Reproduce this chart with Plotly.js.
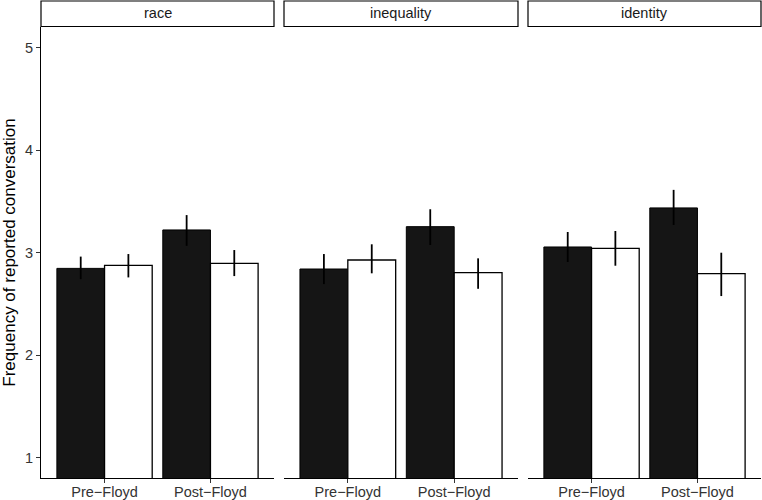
<!DOCTYPE html>
<html>
<head>
<meta charset="utf-8">
<script src="https://cdn.plot.ly/plotly-3.0.1.min.js"></script>
<style>html,body{margin:0;padding:0;background:#fff;}#chart{width:762px;height:500px;}</style>
</head>
<body>
<div id="chart"></div>
<script>
const panels = ["race", "inequality", "identity"];
const periods = ["Pre\u2212Floyd", "Post\u2212Floyd"];
const yTicks = [1, 2, 3, 4, 5];

// race
const raceBlack = [2.845, 3.22];
const raceBlackUpper = [2.96, 3.365];
const raceBlackLower = [2.74, 3.065];
const raceWhite = [2.875, 2.894];
const raceWhiteUpper = [2.985, 3.024];
const raceWhiteLower = [2.757, 2.77];
// inequality
const ineqBlack = [2.839, 3.252];
const ineqBlackUpper = [2.985, 3.422];
const ineqBlackLower = [2.692, 3.073];
const ineqWhite = [2.927, 2.803];
const ineqWhiteUpper = [3.08, 2.943];
const ineqWhiteLower = [2.797, 2.646];
// identity
const identBlack = [3.054, 3.435];
const identBlackUpper = [3.2, 3.611];
const identBlackLower = [2.907, 3.269];
const identWhite = [3.041, 2.793];
const identWhiteUpper = [3.21, 2.998];
const identWhiteLower = [2.871, 2.575];

const series = [
  [raceBlack, raceBlackUpper, raceBlackLower, raceWhite, raceWhiteUpper, raceWhiteLower],
  [ineqBlack, ineqBlackUpper, ineqBlackLower, ineqWhite, ineqWhiteUpper, ineqWhiteLower],
  [identBlack, identBlackUpper, identBlackLower, identWhite, identWhiteUpper, identWhiteLower]
];

const FONT = "Liberation Sans, Arial, Helvetica, sans-serif";
const W = 762, H = 500;
const mL = 41, mR = 1, mT = 27, mB = 22;
const plotW = W - mL - mR, plotH = H - mT - mB;
const px = [[41, 274], [284, 518], [528, 761]];
const domains = px.map(p => [(p[0] - mL) / plotW, (p[1] - mL) / plotW]);

const traces = [];
const shapes = [];
const annotations = [];
const layout = {
  width: W, height: H,
  margin: {l: mL, r: mR, t: mT, b: mB, pad: 0},
  paper_bgcolor: "#fff", plot_bgcolor: "#fff",
  barmode: "group", bargap: 0.1, bargroupgap: 0,
  showlegend: false,
  font: {family: FONT, color: "#000"},
  shapes: shapes, annotations: annotations
};

function err(vals, up, lo) {
  return {
    type: "data", symmetric: false,
    array: up.map((u, i) => u - vals[i]),
    arrayminus: lo.map((l, i) => vals[i] - l),
    width: 0, thickness: 1.8, color: "#000"
  };
}

panels.forEach((name, i) => {
  const s = series[i];
  const xa = i === 0 ? "x" : "x" + (i + 1);
  const ya = i === 0 ? "y" : "y" + (i + 1);
  traces.push({
    type: "bar", x: periods, y: s[0], xaxis: xa, yaxis: ya,
    marker: {color: "#151515", line: {color: "#000", width: 1}},
    error_y: err(s[0], s[1], s[2]), hoverinfo: "none"
  });
  traces.push({
    type: "bar", x: periods, y: s[3], xaxis: xa, yaxis: ya,
    marker: {color: "#fff", line: {color: "#000", width: 1.3}},
    error_y: err(s[3], s[4], s[5]), hoverinfo: "none"
  });
  const xKey = i === 0 ? "xaxis" : "xaxis" + (i + 1);
  const yKey = i === 0 ? "yaxis" : "yaxis" + (i + 1);
  layout[xKey] = {
    domain: domains[i], anchor: ya, type: "category",
    categoryorder: "array", categoryarray: periods,
    range: [-0.6, 1.6], fixedrange: true,
    showline: true, linecolor: "#000", linewidth: 1,
    ticks: "outside", ticklen: 4, tickwidth: 1, tickcolor: "#333",
    ticklabelstandoff: -3,
    tickfont: {family: FONT, size: 14.5, color: "#333"},
    showgrid: false, zeroline: false
  };
  layout[yKey] = {
    anchor: xa, range: [0.8, 5.2], fixedrange: true,
    tickvals: yTicks, ticktext: yTicks.map(String),
    showgrid: false, zeroline: false,
    showline: i === 0, linecolor: "#000", linewidth: 1,
    ticks: i === 0 ? "outside" : "", ticklen: 4, tickwidth: 1, tickcolor: "#333",
    showticklabels: i === 0,
    tickfont: {family: FONT, size: 14.5, color: "#333"}
  };
  if (i > 0) layout[yKey].matches = "y";
  // strip
  shapes.push({
    type: "rect", xref: "paper", yref: "paper",
    x0: domains[i][0], x1: domains[i][1],
    y0: 1 + 0.5 / plotH, y1: 1 + 26 / plotH,
    line: {color: "#000", width: 1.2}, fillcolor: "#fff"
  });
  annotations.push({
    xref: "paper", yref: "paper",
    x: (domains[i][0] + domains[i][1]) / 2, y: 1 + 13.5 / plotH,
    text: name, showarrow: false, xanchor: "center", yanchor: "middle",
    font: {family: FONT, size: 14.5, color: "#1a1a1a"}
  });
});

layout.yaxis.title = {text: "Frequency of reported conversation", font: {family: FONT, size: 17, color: "#000"}, standoff: 6};

Plotly.newPlot("chart", traces, layout, {displayModeBar: false, staticPlot: true});
</script>
</body>
</html>
